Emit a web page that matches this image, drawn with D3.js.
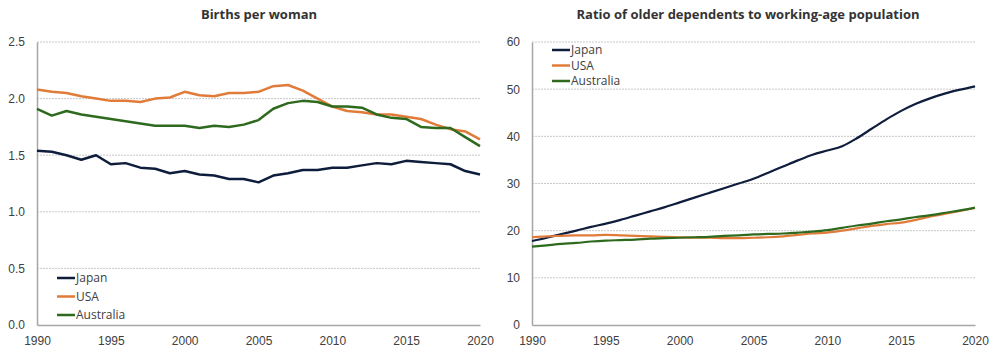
<!DOCTYPE html>
<html>
<head>
<meta charset="utf-8">
<script src="https://cdn.jsdelivr.net/npm/d3@7"></script>
<style>
  body { margin: 0; background: #fff; }
  svg { font-family: "Open Sans", "Noto Sans", sans-serif; }
  .tick text { fill: #404040; font-size: 12px; }
  .title { font-weight: bold; font-size: 13px; fill: #333; }
  .legend text { font-size: 12px; fill: #404040; }
</style>
</head>
<body>
<div class="plot"></div>
<script>
// DATA
var years = d3.range(1990, 2021);
var countries = ["Japan", "USA", "Australia"];
var colors = ["#0e1d3c", "#e07b39", "#2e6a1e"];

var birthsJapan = [1.54, 1.53, 1.50, 1.46, 1.50, 1.42, 1.43, 1.39, 1.38, 1.34, 1.36, 1.33, 1.32, 1.29, 1.29, 1.26,
  1.32, 1.34, 1.37, 1.37, 1.39, 1.39, 1.41, 1.43, 1.42, 1.45, 1.44, 1.43, 1.42, 1.36, 1.33];
var birthsUSA = [2.08, 2.06, 2.05, 2.02, 2.00, 1.98, 1.98, 1.97, 2.00, 2.01, 2.06, 2.03, 2.02, 2.05, 2.05, 2.06,
  2.11, 2.12, 2.07, 2.00, 1.93, 1.89, 1.88, 1.86, 1.86, 1.84, 1.82, 1.77, 1.73, 1.71, 1.64];
var birthsAustralia = [1.91, 1.85, 1.89, 1.86, 1.84, 1.82, 1.80, 1.78, 1.76, 1.76, 1.76, 1.74, 1.76, 1.75, 1.77, 1.81,
  1.91, 1.96, 1.98, 1.97, 1.93, 1.93, 1.92, 1.86, 1.83, 1.82, 1.75, 1.74, 1.74, 1.66, 1.58];

var ratioJapan = [17.8, 18.5, 19.3, 20.0, 20.8, 21.5, 22.3, 23.2, 24.1, 25.0, 26.0, 27.0, 28.0, 29.0, 30.0, 31.0,
  32.3, 33.6, 34.9, 36.1, 37.0, 37.9, 39.6, 41.6, 43.6, 45.4, 46.9, 48.1, 49.1, 49.9, 50.6];
var ratioUSA = [18.6, 18.8, 18.9, 19.0, 19.0, 19.1, 19.0, 18.9, 18.8, 18.7, 18.6, 18.5, 18.5, 18.4, 18.4, 18.5,
  18.6, 18.8, 19.1, 19.4, 19.6, 20.0, 20.5, 21.0, 21.4, 21.7, 22.3, 23.0, 23.6, 24.2, 24.8];
var ratioAustralia = [16.6, 16.9, 17.2, 17.4, 17.7, 17.9, 18.0, 18.1, 18.3, 18.4, 18.5, 18.6, 18.7, 18.9, 19.0, 19.2,
  19.3, 19.4, 19.6, 19.8, 20.1, 20.6, 21.1, 21.5, 22.0, 22.4, 22.9, 23.3, 23.8, 24.3, 24.9];

var xTicks = [1990, 1995, 2000, 2005, 2010, 2015, 2020];
var birthTicks = [0, 0.5, 1.0, 1.5, 2.0, 2.5];
var ratioTicks = [0, 10, 20, 30, 40, 50, 60];

var w = 1000;
var h = 353;
var svg = d3.select(".plot").append("svg").attr("width", w).attr("height", h);

// BUILD ONE PANEL
function panel(opts) {
  var xScale = d3.scaleLinear().domain([1990, 2020]).range([opts.left, opts.right]);
  var yScale = d3.scaleLinear().domain([0, opts.max]).range([325, 42]);

  // gridlines
  svg.selectAll(null)
    .data(opts.ticks.slice(1))
    .enter()
    .append("line")
    .attr("x1", opts.left)
    .attr("x2", opts.right)
    .attr("y1", function (d) { return yScale(d); })
    .attr("y2", function (d) { return yScale(d); })
    .attr("stroke", "#c8c8c8")
    .attr("stroke-dasharray", "2,1");

  // y-axis
  var yAxis = d3.axisLeft(yScale)
    .tickValues(opts.ticks)
    .tickSize(0)
    .tickPadding(opts.left - opts.labelX)
    .tickFormat(opts.fmt);
  svg.append("g")
    .attr("transform", "translate(" + opts.left + ",0)")
    .call(yAxis)
    .call(function (g) { g.select(".domain").attr("stroke", "#a6a6a6").attr("stroke-width", 1.5); });

  // x-axis
  var xAxis = d3.axisBottom(xScale)
    .tickValues(xTicks)
    .tickSize(0)
    .tickPadding(11)
    .tickFormat(d3.format("d"));
  svg.append("g")
    .attr("transform", "translate(0,325)")
    .call(xAxis)
    .call(function (g) { g.select(".domain").attr("stroke", "#a6a6a6").attr("stroke-width", 1.5); });

  // lines
  var line = d3.line()
    .x(function (d, i) { return xScale(years[i]); })
    .y(function (d) { return yScale(d); })
    .curve(opts.curve);

  opts.series.forEach(function (s, i) {
    svg.append("path")
      .datum(s)
      .attr("fill", "none")
      .attr("stroke", colors[i])
      .attr("stroke-width", opts.width)
      .attr("stroke-linejoin", "round")
      .attr("d", line);
  });

  // title
  svg.append("text")
    .attr("class", "title")
    .attr("x", opts.titleX)
    .attr("y", 19)
    .attr("text-anchor", "middle")
    .text(opts.title);

  // legend
  var legend = svg.append("g").attr("class", "legend");
  countries.forEach(function (c, i) {
    var y = opts.legendY + i * opts.legendStep;
    legend.append("line")
      .attr("x1", opts.left + 20).attr("x2", opts.left + 38)
      .attr("y1", y).attr("y2", y)
      .attr("stroke", colors[i]).attr("stroke-width", 2.5);
    legend.append("text")
      .attr("x", opts.left + 39)
      .attr("y", y)
      .attr("dy", "0.35em")
      .text(c);
  });
}

panel({
  left: 37, right: 480, labelX: 25, max: 2.5, ticks: birthTicks,
  fmt: d3.format(".1f"),
  series: [birthsJapan, birthsUSA, birthsAustralia],
  curve: d3.curveLinear, width: 2.5,
  title: "Births per woman", titleX: 259,
  legendY: 278, legendStep: 18.5
});

panel({
  left: 532, right: 975, labelX: 520, max: 60, ticks: ratioTicks,
  fmt: d3.format("d"),
  series: [ratioJapan, ratioUSA, ratioAustralia],
  curve: d3.curveMonotoneX, width: 2.2,
  title: "Ratio of older dependents to working-age population", titleX: 748,
  legendY: 50, legendStep: 15.5
});
</script>
</body>
</html>
